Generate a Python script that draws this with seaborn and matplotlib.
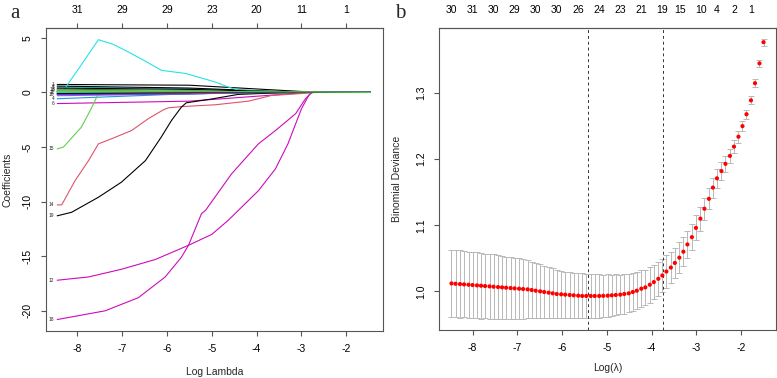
import numpy as np
import pandas as pd
import matplotlib
matplotlib.use("Agg")
import matplotlib.pyplot as plt
import seaborn as sns

# ---------------- panel a: coefficient paths ----------------
r_pal = ["black", "#DF536B", "#61D04F", "#2297E6", "#28E2E5", "#CD0BBC"]

x_start = -8.45
x_end = -1.46

# large paths, knots
v11_x = [-8.45, -8.31, -7.90, -7.53, -7.20, -6.86, -6.50, -6.12, -5.59, -5.30, -4.92, -4.63, -4.41, -3.60, -2.75]
v11_y = [0.00, 0.18, 2.60, 4.83, 4.40, 3.70, 2.90, 2.02, 1.74, 1.40, 0.95, 0.49, 0.22, 0.08, 0.00]
v15_x = [-8.45, -8.31, -7.91, -7.69, -7.53, -6.50, -5.00, -3.60, -2.80]
v15_y = [-5.17, -5.00, -3.18, -1.47, -0.10, 0.12, 0.10, 0.05, 0.00]
v14_x = [-8.45, -8.35, -8.05, -7.75, -7.53, -7.24, -6.79, -6.42, -6.08, -5.97, -5.68, -4.92, -4.18, -3.67, -2.84, -2.70]
v14_y = [-10.3, -10.3, -8.07, -6.24, -4.71, -4.25, -3.49, -2.41, -1.59, -1.41, -1.30, -1.13, -0.80, -0.28, -0.06, 0.00]
v19_x = [-8.45, -8.13, -7.53, -7.02, -6.48, -6.13, -5.90, -5.68, -5.57, -5.00, -4.41, -3.60, -2.95]
v19_y = [-11.3, -10.98, -9.60, -8.23, -6.24, -4.10, -2.57, -1.35, -0.95, -0.60, -0.18, -0.05, 0.00]
v12_x = [-8.45, -7.75, -7.02, -6.26, -5.52, -5.00, -4.63, -3.96, -3.58, -3.30, -3.00, -2.84, -2.78]
v12_y = [-17.2, -16.9, -16.2, -15.3, -14.0, -13.0, -11.7, -9.0, -7.0, -4.7, -1.5, -0.3, 0.00]
v18_x = [-8.45, -7.38, -6.64, -6.04, -5.68, -5.52, -5.23, -5.14, -4.56, -3.96, -3.58, -3.13, -2.91, -2.80, -2.75]
v18_y = [-20.8, -20.0, -18.8, -16.9, -15.1, -14.0, -11.1, -10.8, -7.46, -4.71, -3.49, -1.95, -0.58, -0.12, 0.00]

# small paths near zero: value at start, value at -5.5, where it reaches zero
small_ids = [1, 2, 3, 4, 5, 6, 7, 8, 9, 10, 13, 16, 17, 20, 22, 23, 24, 25, 26, 27, 28, 29, 30, 31]
small_start = [0.73, 0.10, 0.15, -0.58, 0.49, -1.02, 0.58, 0.05, 0.20, -0.20, 0.30, -0.10, 0.10,
               -0.15, -0.30, -0.05, -0.20, 0.40, -0.05, 0.25, 0.05, 0.00, 0.10, -0.10]
small_mid = [0.66, 0.06, 0.10, -0.12, 0.35, -0.80, 0.40, 0.02, 0.10, -0.12, 0.15, -0.06, 0.04,
             -0.05, -0.15, -0.01, -0.12, 0.28, 0.00, 0.15, 0.02, 0.00, 0.05, -0.02]
small_zero = [-2.62, -4.0, -3.5, -3.0, -3.3, -2.84, -3.0, -5.0, -4.0, -3.0, -3.8, -3.2, -4.5,
              -5.0, -4.2, -5.2, -3.6, -2.9, -6.0, -3.4, -4.8, -6.5, -4.0, -5.4]
# the few labels that can still be told apart in the crowded band near zero
small_labelled = [1, 7, 5, 9, 4, 6, 13, 10]

# variable 21 stays non-zero the longest
v21_x = [-8.45, -5.5, -3.0, -1.80, -1.46]
v21_y = [0.08, 0.06, 0.04, 0.01, 0.00]

top_a_x = [-8, -7, -6, -5, -4, -3, -2]
top_a_lab = ["31", "29", "29", "23", "20", "11", "1"]

# ---------------- panel b: cross-validation ----------------
log_lambda = [-8.47, -8.38, -8.28, -8.19, -8.09, -8.00, -7.90, -7.81, -7.72, -7.62,
              -7.53, -7.43, -7.34, -7.25, -7.15, -7.06, -6.96, -6.87, -6.77, -6.68,
              -6.59, -6.49, -6.40, -6.30, -6.21, -6.12, -6.02, -5.93, -5.83, -5.74,
              -5.64, -5.55, -5.46, -5.36, -5.27, -5.17, -5.08, -4.98, -4.89, -4.80,
              -4.70, -4.61, -4.51, -4.42, -4.33, -4.23, -4.14, -4.04, -3.95, -3.85,
              -3.76, -3.67, -3.57, -3.48, -3.38, -3.29, -3.20, -3.10, -3.01, -2.91,
              -2.82, -2.72, -2.63, -2.54, -2.44, -2.35, -2.25, -2.16, -2.06, -1.97,
              -1.88, -1.78, -1.69, -1.59, -1.50]
cvm = [1.012, 1.0115, 1.011, 1.0105, 1.010, 1.0095, 1.009, 1.0085, 1.008, 1.0075,
       1.007, 1.0065, 1.006, 1.0055, 1.005, 1.0045, 1.004, 1.0035, 1.003, 1.002,
       1.001, 1.000, 0.999, 0.998, 0.997, 0.996, 0.9955, 0.995, 0.9945, 0.994,
       0.9935, 0.993, 0.993, 0.993, 0.993, 0.993, 0.9932, 0.9935, 0.994, 0.9945,
       0.995, 0.996, 0.997, 0.999, 1.001, 1.004, 1.006, 1.010, 1.014, 1.019,
       1.024, 1.030, 1.036, 1.043, 1.051, 1.060, 1.071, 1.082, 1.096, 1.110,
       1.125, 1.140, 1.157, 1.171, 1.182, 1.193, 1.205, 1.219, 1.234, 1.250,
       1.268, 1.289, 1.315, 1.345, 1.377]
cvsd = [0.051, 0.051, 0.051, 0.050, 0.050, 0.050, 0.050, 0.050, 0.049, 0.049,
        0.049, 0.048, 0.048, 0.047, 0.047, 0.046, 0.046, 0.045, 0.044, 0.043,
        0.042, 0.041, 0.040, 0.039, 0.038, 0.037, 0.036, 0.035, 0.035, 0.034,
        0.034, 0.034, 0.033, 0.033, 0.033, 0.033, 0.032, 0.032, 0.031, 0.031,
        0.030, 0.030, 0.029, 0.029, 0.028, 0.028, 0.027, 0.027, 0.026, 0.026,
        0.025, 0.025, 0.024, 0.023, 0.023, 0.022, 0.021, 0.020, 0.019, 0.018,
        0.017, 0.016, 0.015, 0.014, 0.013, 0.012, 0.011, 0.010, 0.009, 0.008,
        0.007, 0.006, 0.006, 0.005, 0.005]
lambda_min = -5.41
lambda_1se = -3.74

top_b_x = [-8.47, -8.00, -7.53, -7.06, -6.59, -6.12, -5.64, -5.17, -4.70, -4.23,
           -3.76, -3.36, -2.89, -2.54, -2.16, -1.78]
top_b_lab = ["30", "31", "30", "29", "30", "30", "26", "24", "23", "21",
             "19", "15", "10", "4", "2", "1"]

# ---------------- build long table for the paths ----------------
rows = []
big = {11: (v11_x, v11_y), 15: (v15_x, v15_y), 14: (v14_x, v14_y),
       19: (v19_x, v19_y), 12: (v12_x, v12_y), 18: (v18_x, v18_y)}
for vid, s0, sm, z in zip(small_ids, small_start, small_mid, small_zero):
    xs = [x_start, -5.5, z, x_end] if z > -5.5 else [x_start, z, x_end]
    ys = [s0, sm, 0.0, 0.0] if z > -5.5 else [s0, 0.0, 0.0]
    for x, y in zip(xs, ys):
        rows.append((vid, x, y))
for vid, (xs, ys) in big.items():
    xs = list(xs) + [x_end]
    ys = list(ys) + [0.0]
    for x, y in zip(xs, ys):
        rows.append((vid, x, y))
for x, y in zip(v21_x, v21_y):
    rows.append((21, x, y))
paths = pd.DataFrame(rows, columns=["var", "loglambda", "coef"])
col_of = {v: r_pal[(v - 1) % 6] for v in range(1, 32)}

sns.set_style("ticks")
plt.rcParams["font.family"] = ["Liberation Sans", "DejaVu Sans"]
plt.rcParams["axes.edgecolor"] = "#555555"
plt.rcParams["xtick.color"] = "#555555"
plt.rcParams["ytick.color"] = "#555555"
plt.rcParams["xtick.labelcolor"] = "black"
plt.rcParams["ytick.labelcolor"] = "black"

fs = 7.5
fig = plt.figure(figsize=(7.77, 3.78), dpi=100)
ax_a = fig.add_axes([46 / 777, 47 / 378, 337 / 777, 303 / 378])
ax_b = fig.add_axes([439 / 777, 48 / 378, 337 / 777, 302 / 378])

order = [v for v in range(1, 32) if v != 21] + [21]
for v in order:
    d = paths[paths["var"] == v]
    sns.lineplot(data=d, x="loglambda", y="coef", color=col_of[v], lw=0.8,
                 estimator=None, sort=False, ax=ax_a, legend=False)
    if v in big or v in small_labelled:
        y0 = d["coef"].iloc[0]
        ax_a.text(x_start - 0.06, y0, str(v), fontsize=3.5, ha="right", va="center")

ax_a.set_xlim(-8.70, -1.18)
ax_a.set_ylim(-21.85, 5.9)
ax_a.set_xticks([-8, -7, -6, -5, -4, -3, -2])
ax_a.set_yticks([5, 0, -5, -10, -15, -20])
ax_a.set_yticklabels(["5", "0", "-5", "-10", "-15", "-20"], rotation=90, va="center")
ax_a.set_xticklabels(["-8", "-7", "-6", "-5", "-4", "-3", "-2"])
ax_a.set_xlabel("Log Lambda", fontsize=fs)
ax_a.set_ylabel("Coefficients", fontsize=fs)
ax_a.xaxis.set_label_coords(0.5, -0.119)
ax_a.yaxis.set_label_coords(-0.098, 0.5)
top_a = ax_a.secondary_xaxis("top")
top_a.set_xticks(top_a_x)
top_a.set_xticklabels(top_a_lab)
top_a.tick_params(length=3.5, pad=6.0, labelsize=fs, color="#555555")

# panel b
ax_b.errorbar(log_lambda, cvm, yerr=cvsd, fmt="none", ecolor="#B8B8B8",
              elinewidth=0.7, capsize=2.2, capthick=0.7, zorder=1)
cv_df = pd.DataFrame({"loglambda": log_lambda, "cvm": cvm})
sns.scatterplot(data=cv_df, x="loglambda", y="cvm", color="red", s=9,
                edgecolor="none", ax=ax_b, zorder=3)
ax_b.axvline(lambda_min, color="#333333", ls=(0, (3, 3)), lw=0.7)
ax_b.axvline(lambda_1se, color="#333333", ls=(0, (3, 3)), lw=0.7)
ax_b.set_xlim(-8.749, -1.221)
ax_b.set_ylim(0.9415, 1.3985)
ax_b.set_xticks([-8, -7, -6, -5, -4, -3, -2])
ax_b.set_xticklabels(["-8", "-7", "-6", "-5", "-4", "-3", "-2"])
ax_b.set_yticks([1.0, 1.1, 1.2, 1.3])
ax_b.set_yticklabels(["1.0", "1.1", "1.2", "1.3"], rotation=90, va="center")
ax_b.set_xlabel("Log(λ)", fontsize=fs)
ax_b.set_ylabel("Binomial Deviance", fontsize=fs)
ax_b.xaxis.set_label_coords(0.5, -0.109)
ax_b.yaxis.set_label_coords(-0.11, 0.5)
top_b = ax_b.secondary_xaxis("top")
top_b.set_xticks(top_b_x)
top_b.set_xticklabels(top_b_lab)
top_b.tick_params(length=0, pad=9.5, labelsize=fs)

for ax in (ax_a, ax_b):
    for sp in ax.spines.values():
        sp.set_visible(True)
        sp.set_linewidth(0.8)
    ax.tick_params(axis="both", labelsize=fs, length=3.5, width=0.8, pad=6.0)

fig.text(15 / 777, 1 - 13 / 378, "a", family=["Liberation Serif", "DejaVu Serif"],
         fontsize=15, ha="center", va="center")
fig.text(400 / 777, 1 - 13 / 378, "b", family=["Liberation Serif", "DejaVu Serif"],
         fontsize=15, ha="center", va="center")

fig.savefig("out.png", dpi=100)
